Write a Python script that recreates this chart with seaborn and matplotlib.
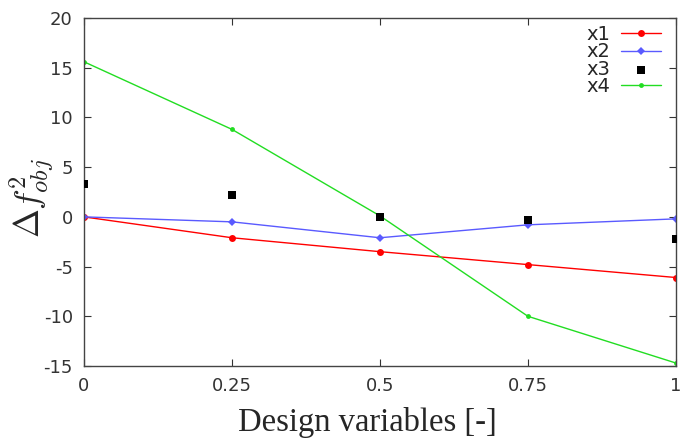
import matplotlib
matplotlib.use("Agg")
import matplotlib.pyplot as plt
import seaborn as sns
import pandas as pd

x_vals = [0, 0.25, 0.5, 0.75, 1.0]
x1 = [0.0, -2.1, -3.5, -4.8, -6.1]
x2 = [0.0, -0.5, -2.1, -0.8, -0.2]
x3 = [3.3, 2.2, 0.0, -0.3, -2.2]
x4 = [15.6, 8.8, 0.1, -10.0, -14.7]
x_ticks = [0, 0.25, 0.5, 0.75, 1]
x_tick_labels = ["0", "0.25", "0.5", "0.75", "1"]
y_ticks = [-15, -10, -5, 0, 5, 10, 15, 20]

sns.set_theme(style="ticks")
plt.rcParams['font.family'] = ['DejaVu Sans']
plt.rcParams['mathtext.fontset'] = 'cm'
plt.rcParams['axes.unicode_minus'] = False

fig = plt.figure(figsize=(6.8, 4.45), dpi=100)
ax = fig.add_axes([0.1235, 0.1775, 0.8705, 0.782])

sns.lineplot(x=x_vals, y=x1, ax=ax, color="#ff0000", marker="o", markersize=5,
             markeredgewidth=0, linewidth=1, label="x1")
sns.lineplot(x=x_vals, y=x2, ax=ax, color="#5a5aff", marker="D", markersize=4,
             markeredgewidth=0, linewidth=1, label="x2")
sns.scatterplot(x=x_vals, y=x3, ax=ax, color="black", marker="s", s=30,
                linewidth=0, label="x3", zorder=3)
sns.lineplot(x=x_vals, y=x4, ax=ax, color="#22dd22", marker="o", markersize=3.5,
             markeredgewidth=0, linewidth=1, label="x4")

ax.set_xlim(0, 1)
ax.set_ylim(-15, 20)
ax.set_xticks(x_ticks)
ax.set_xticklabels(x_tick_labels)
ax.set_yticks(y_ticks)
ax.tick_params(direction="in", length=5, width=0.8, labelsize=13, colors="#333333",
               top=True, right=True, pad=8)
for sp in ax.spines.values():
    sp.set_color("#444444")
    sp.set_linewidth(1)

ax.set_xlabel("Design variables [-]", family="Liberation Serif", fontsize=23.5, va="center")
ax.xaxis.set_label_coords(0.479, -0.162)
ax.set_ylabel(r"$\Delta f^2_{obj}$", fontsize=25, va="center")
ax.yaxis.set_label_coords(-0.088, 0.483)

leg = ax.legend(loc="upper right", bbox_to_anchor=(1.0, 1.022), frameon=False,
                markerfirst=False, fontsize=14, handlelength=2.1, labelspacing=-0.08,
                borderaxespad=0.35, handletextpad=0.5)

fig.savefig("out.png", dpi=100)
